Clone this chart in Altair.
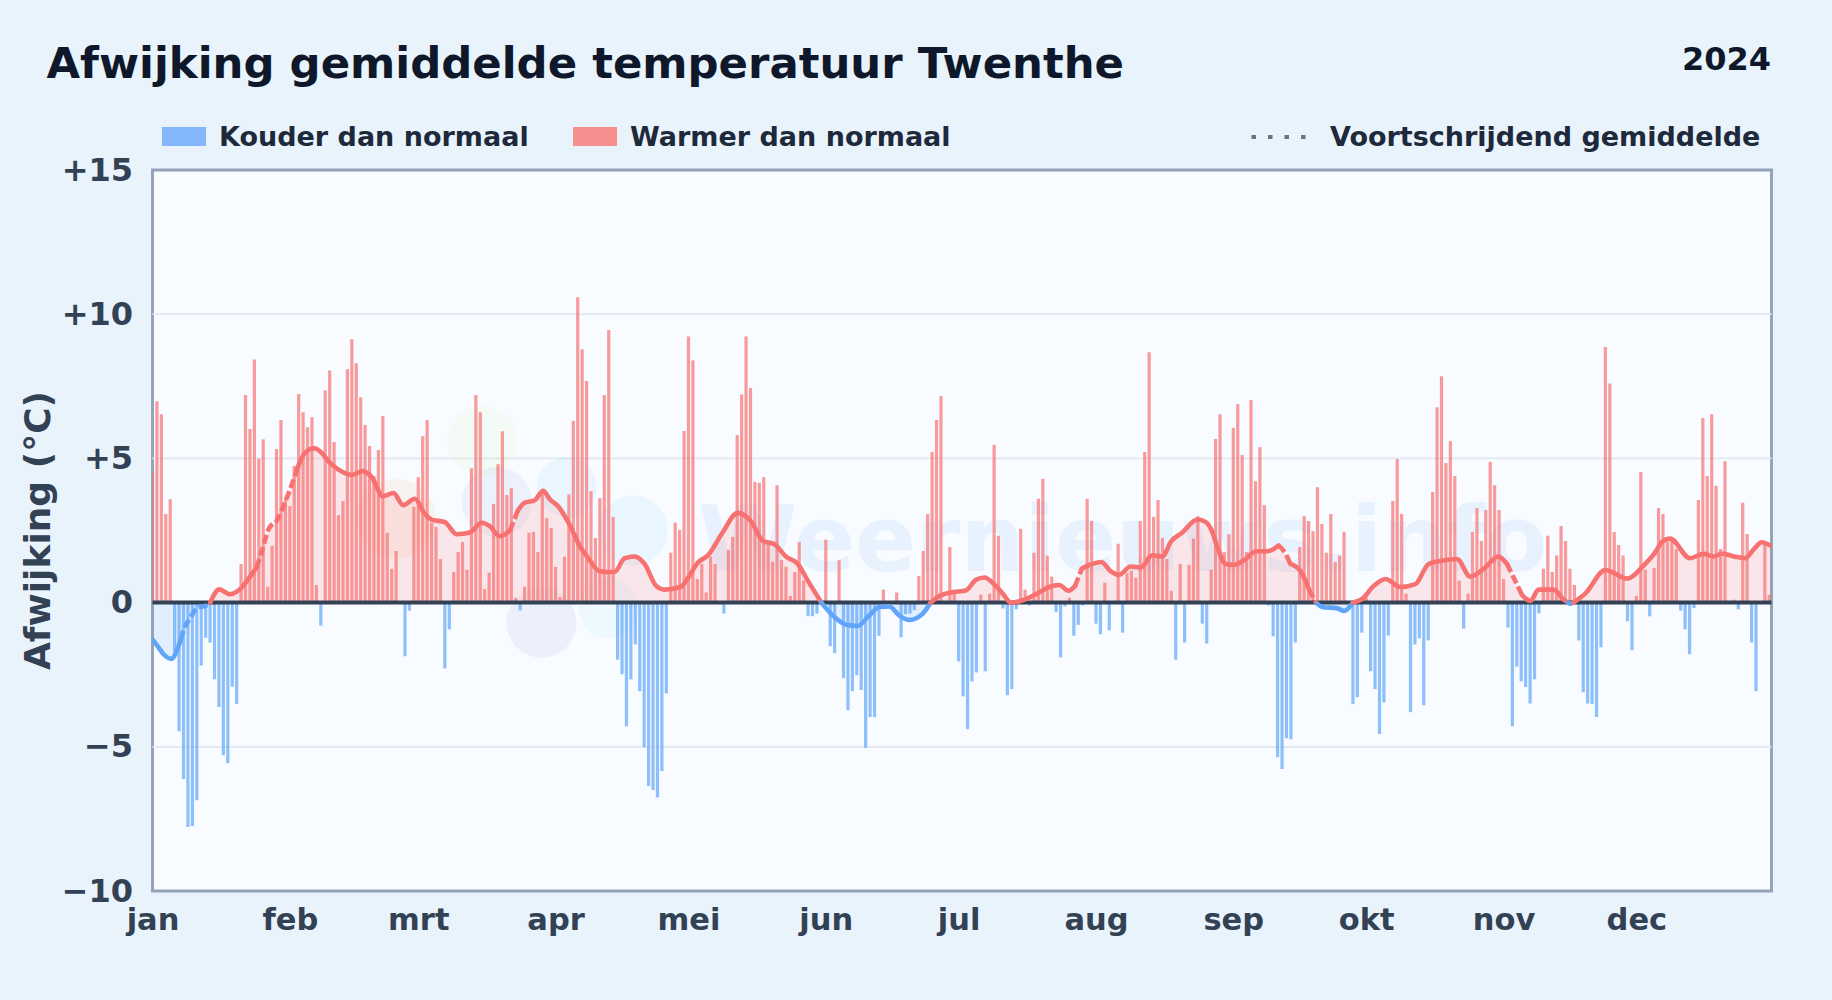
import altair as alt
import pandas as pd

DAILY = [
 4.55,6.98,6.53,3.07,3.58,-1.7,-4.46,-6.12,-7.78,-7.75,-6.85,-2.18,-1.22,-1.38,-2.66,-3.62,-5.29,-5.57,-2.92,-3.52,
 1.34,7.2,6.02,8.43,4.99,5.66,0.55,1.97,5.33,6.33,3.58,3.35,4.74,7.23,6.6,6.08,6.43,0.61,-0.8,7.36,
 8.05,5.57,3.03,3.52,8.09,9.13,8.3,7.12,6.16,5.43,4.39,5.29,6.47,2.42,1.17,1.79,0.0,-1.86,-0.27,3.32,
 4.35,5.77,6.33,2.77,2.62,1.51,-2.28,-0.93,1.06,1.75,2.1,1.14,4.66,7.2,6.6,0.47,1.04,3.42,4.8,5.94,
 3.73,3.97,0.17,-0.27,0.55,2.42,2.45,1.75,3.9,2.93,2.59,1.24,0.19,1.59,3.75,6.3,10.59,8.78,7.68,3.87,
 2.24,3.62,7.2,9.45,2.97,-1.98,-2.48,-4.29,-2.66,-1.45,-3.07,-5.02,-6.36,-6.5,-6.76,-5.84,-3.15,1.73,2.77,2.52,
 5.95,9.23,8.4,0.82,1.34,0.35,1.6,1.34,0.0,-0.38,1.83,2.28,5.81,7.22,9.23,7.44,4.19,4.15,4.35,2.1,
 1.41,4.07,1.47,1.24,0.23,1.06,2.1,0.77,-0.47,-0.47,-0.38,0.0,2.18,-1.51,-1.75,1.47,-2.62,-3.73,-3.07,-2.52,
 -3.03,-5.04,-3.97,-3.97,-1.15,0.45,0.0,0.0,0.35,-1.2,-0.4,-0.38,-0.26,0.92,1.79,3.07,5.22,6.33,7.16,0.0,
 1.93,0.32,-2.04,-3.25,-4.39,-2.73,-2.42,0.28,-2.38,0.31,5.47,2.32,-0.2,-3.21,-3.0,-0.23,2.56,0.45,-0.1,1.73,
 3.6,4.29,1.63,0.9,-0.32,-1.9,-0.13,0.17,-1.15,-0.77,-0.1,3.6,2.83,-0.73,-1.1,0.69,-0.96,0.0,2.04,-1.04,
 1.02,1.11,0.86,2.83,5.22,8.68,2.97,3.56,2.24,1.51,0.41,-1.98,1.34,-1.38,1.31,2.22,3.0,-0.73,-1.42,1.14,
 5.67,6.53,1.75,2.37,6.06,6.88,5.12,1.75,7.02,4.21,5.39,3.38,-0.1,-1.17,-5.36,-5.77,-4.7,-4.74,-1.38,1.93,
 3.0,2.83,2.48,4.0,2.73,1.73,3.07,1.41,1.63,2.45,0.0,-3.52,-3.28,-1.04,0.19,-2.38,-3.0,-4.56,-3.46,-1.14,
 3.52,4.98,3.07,0.31,-3.8,-1.45,-1.24,-3.56,-1.31,3.84,6.77,7.85,4.84,5.6,4.39,0.76,-0.9,0.31,2.45,3.28,
 2.14,3.21,4.88,4.07,3.21,0.82,-0.86,-4.29,-2.22,-2.73,-2.93,-3.5,-2.66,-0.37,1.17,2.32,1.06,1.63,2.66,2.14,
 1.17,0.61,-1.31,-3.11,-3.5,-3.52,-3.97,-1.55,8.86,7.6,2.45,2.0,1.63,-0.65,-1.65,0.23,4.53,1.15,-0.47,1.2,
 3.28,3.07,2.1,2.18,1.86,-0.27,-0.93,-1.79,-0.19,3.56,6.4,4.39,6.53,4.05,1.86,4.9,0.0,0.1,-0.23,3.46,
 2.38,-1.38,-3.07,0.0,2.0,0.27,
]

MA_DAYS = [0,1.4,2.5,4.4,5.5,6.4,7.4,8.5,10,12.3,13,15.1,17.5,20.3,22,23.5,24.7,26.2,28.2,29.5,31,32.6,34.4,36.5,38.2,39.7,42,45,47.4,49.5,52,54.4,56.6,59.2,61.5,63,66,68.7,71.6,74.3,76.2,78.4,80.7,82.5,84,86.3,88.2,89.65,91.5,94.2,96.4,98.7,100.9,104.3,106.6,108.8,111.1,113.7,115.6,119.3,120.8,123.1,125.4,128.7,132.1,135.1,137.8,140.4,143,145.7,147.9,151,153.6,156.6,159.2,161.8,164.1,166.3,168.6,170.9,173.9,175.7,177.2,180.6,183.6,185.9,187.8,190,191.9,193.8,196.8,200.2,202.4,204.7,206.8,208.3,209.8,211.8,214.2,216.3,218.2,220.8,223.1,225.7,228,229.9,232.5,235.9,237.8,239.3,240.4,242.3,244.2,246.4,249,252,254.2,255.4,256.9,259.2,261.1,262.7,264.1,267.5,269,271,273.1,275.7,278.4,281.7,285.1,288.1,291.1,294.5,297.5,300.9,303.8,305.8,309.2,311.1,312.9,316.3,318.6,319.6,320.1,320.8,323.5,328,332.9,336.6,339.2,340.8,342.6,347.1,350.2,352.4,354.3,357.3,359.6,361.4,363.3,365.5]
MA_VALS = [-1.28,-1.56,-1.79,-1.95,-1.66,-1.28,-0.83,-0.54,-0.19,-0.09,0.0,0.46,0.29,0.55,0.9,1.22,1.79,2.54,2.88,3.33,3.9,4.61,5.19,5.35,5.19,4.9,4.61,4.43,4.56,4.35,3.69,3.8,3.38,3.6,3.07,2.88,2.79,2.37,2.43,2.77,2.64,2.3,2.5,3.2,3.46,3.55,3.88,3.59,3.35,2.69,1.98,1.47,1.09,1.06,1.54,1.6,1.34,0.58,0.45,0.55,0.83,1.38,1.64,2.43,3.11,2.82,2.14,2.02,1.6,1.34,0.77,0.0,-0.45,-0.77,-0.81,-0.45,-0.15,-0.13,-0.45,-0.6,-0.38,0.0,0.19,0.36,0.42,0.79,0.87,0.64,0.32,0.0,0.1,0.36,0.54,0.61,0.41,0.58,1.18,1.32,1.41,1.09,0.96,1.25,1.22,1.64,1.6,2.11,2.43,2.88,2.79,2.43,1.92,1.34,1.31,1.47,1.77,1.79,1.98,1.79,1.34,1.09,0.45,0.0,-0.15,-0.2,-0.29,0.0,0.13,0.58,0.82,0.54,0.64,1.34,1.45,1.51,0.9,1.22,1.6,1.34,0.26,0.06,0.45,0.45,0.1,0.0,-0.04,0.0,0.32,1.13,0.83,1.28,1.73,2.11,2.22,1.54,1.69,1.6,1.7,1.59,1.54,1.83,2.09,1.95]
DASHED_SPANS = [(6.4, 13), (23.5, 33), (80.7, 82.5), (208.3, 209.8), (254.2, 256.9), (261.1, 262.7), (305.8, 309.2)]

MONTH_STARTS = [0,31,60,91,121,152,182,213,244,274,305,335]
MONTH_NAMES = ["jan","feb","mrt","apr","mei","jun","jul","aug","sep","okt","nov","dec"]
Y_TICKS = [-10,-5,0,5,10,15]
GRID_LINES = [-5,5,10]

TITLE = "Afwijking gemiddelde temperatuur Twenthe"
YEAR = "2024"
Y_TITLE = "Afwijking (°C)"
LEG_COLD = "Kouder dan normaal"
LEG_WARM = "Warmer dan normaal"
LEG_AVG = "Voortschrijdend gemiddelde"
WATERMARK = "Weernieuws.info"

BLOB_DAY = [74.5,77.7,93.5,108.4,87.8,103,55]
BLOB_VAL = [5.6,3.5,4.0,2.5,-0.7,-0.2,2.9]
BLOB_SIZE = [4900,4900,3600,4900,4900,3600,6400]
BLOB_COLOR = ["#bef264","#1e40af","#38bdf8","#38bdf8","#1e40af","#38bdf8","#fb923c"]
BLOB_OP = [0.06,0.05,0.07,0.07,0.06,0.05,0.07]

W, H = 1619, 721
PAGE = "#e8f3fc"
INK = "#334155"

bars = pd.DataFrame({"day": range(len(DAILY)), "val": DAILY})
bars["kind"] = ["warm" if v >= 0 else "cold" for v in DAILY]

rows = []
seg = -1
prev = None
for i in range(len(MA_DAYS) - 1):
    d0, d1, v0, v1 = MA_DAYS[i], MA_DAYS[i + 1], MA_VALS[i], MA_VALS[i + 1]
    kind = "warm" if v0 + v1 >= 0 else "cold"
    mid = (d0 + d1) / 2
    dashed = any(a <= mid <= b for a, b in DASHED_SPANS)
    key = (kind, dashed)
    if key != prev:
        seg += 1
        rows.append(dict(day=d0, val=v0, kind=kind, dashed=dashed, seg=seg))
        prev = key
    rows.append(dict(day=d1, val=v1, kind=kind, dashed=dashed, seg=seg))
ma = pd.DataFrame(rows)

x_scale = alt.Scale(domain=[0, 365.5], nice=False, zero=False, padding=0)
y_scale = alt.Scale(domain=[-10, 15], nice=False)
bar_colors = alt.Scale(domain=["cold", "warm"], range=["#3b82f6", "#ef4444"])
line_colors = alt.Scale(domain=["cold", "warm"], range=["#60a5fa", "#f87171"])

month_expr = "{" + ",".join(f"'{d}':'{n}'" for d, n in zip(MONTH_STARTS, MONTH_NAMES)) + "}[datum.value]"
y_expr = "datum.value > 0 ? '+' + datum.value : (datum.value < 0 ? '\u2212' + abs(datum.value) : '0')"

X = alt.X("day:Q", scale=x_scale, axis=alt.Axis(
    values=MONTH_STARTS, labelExpr=month_expr, title=None, grid=False, ticks=False, domain=False,
    labelFontSize=30.5, labelFontWeight="bold", labelColor=INK, labelPadding=14, labelFont="DejaVu Sans",
    labelOverlap=False, labelFlush=False))
Y = alt.Y("val:Q", scale=y_scale, axis=alt.Axis(
    values=Y_TICKS, labelExpr=y_expr, title=Y_TITLE, grid=False,
    ticks=False, domain=False, labelFontSize=32, labelFontWeight="bold", labelColor=INK, labelPadding=20,
    labelFont="DejaVu Sans", titleFont="DejaVu Sans", titleFontSize=36, titleFontWeight="bold", titleColor=INK,
    titleX=-114, titleY=360, titleAngle=270, titleAlign="center", titleBaseline="middle"))

grid = alt.Chart(pd.DataFrame({"val": GRID_LINES})).mark_rule(color="#e2e8f0", strokeWidth=1.8).encode(
    y=alt.Y("val:Q", scale=y_scale))

blobs = alt.Chart(pd.DataFrame({"day": BLOB_DAY, "val": BLOB_VAL, "s": BLOB_SIZE, "c": BLOB_COLOR, "o": BLOB_OP})).mark_point(
    shape="circle", filled=True, strokeWidth=0).encode(
    x=alt.X("day:Q", scale=x_scale), y=alt.Y("val:Q", scale=y_scale),
    size=alt.Size("s:Q", scale=None), color=alt.Color("c:N", scale=None), opacity=alt.Opacity("o:Q", scale=None))

wm = alt.Chart(pd.DataFrame({"day": [219], "val": [1.1], "t": [WATERMARK]})).mark_text(
    font="DejaVu Sans", fontWeight="bold", fontSize=90, color="#3b82f6", opacity=0.08, align="center", baseline="alphabetic"
).encode(x=alt.X("day:Q", scale=x_scale), y=alt.Y("val:Q", scale=y_scale), text="t:N")

area = alt.Chart(ma).mark_area(opacity=0.15, interpolate="monotone", clip=True).encode(
    x=alt.X("day:Q", scale=x_scale), y=alt.Y("val:Q", scale=y_scale, stack=None), y2=alt.datum(0),
    color=alt.Color("kind:N", scale=line_colors, legend=None), detail="seg:N")

bar_layer = alt.Chart(bars).mark_bar(size=3.2, opacity=0.7, clip=True).encode(
    x=X, y=Y, y2=alt.datum(0), color=alt.Color("kind:N", scale=bar_colors, legend=None))

zero = alt.Chart(pd.DataFrame({"val": [0]})).mark_rule(color="#334155", strokeWidth=4).encode(y=alt.Y("val:Q", scale=y_scale))

def line(frame, **kw):
    return alt.Chart(frame).mark_line(strokeWidth=4.6, interpolate="monotone", clip=True, **kw).encode(
        x=alt.X("day:Q", scale=x_scale), y=alt.Y("val:Q", scale=y_scale),
        color=alt.Color("kind:N", scale=line_colors, legend=None), detail="seg:N")

solid = line(ma[~ma.dashed], strokeCap="round", strokeJoin="round")
dash = line(ma[ma.dashed], strokeDash=[9, 3.5], strokeCap="butt")

# header and legend, placed in pixels above the plot
year = alt.Chart(pd.DataFrame({"t": [YEAR]})).mark_text(
    font="DejaVu Sans", fontWeight="bold", fontSize=32, color="#0f172a", align="right", baseline="alphabetic"
).encode(x=alt.value(W - 0.5), y=alt.value(-100), text="t:N")

def legend_text(t, x):
    return alt.Chart(pd.DataFrame({"t": [t]})).mark_text(
        font="DejaVu Sans", fontWeight="bold", fontSize=27, color="#1e293b", align="left", baseline="middle"
    ).encode(x=alt.value(x), y=alt.value(-32), text="t:N")

def swatch(x0, color):
    return alt.Chart(pd.DataFrame({"a": [0]})).mark_rect(color=color).encode(
        x=alt.value(x0), x2=alt.value(x0 + 44), y=alt.value(-43), y2=alt.value(-24))

dots = alt.Chart(pd.DataFrame({"a": [0]})).mark_rule(color="#64748b", strokeWidth=4, strokeDash=[4.5, 12]).encode(
    x=alt.value(1099), x2=alt.value(1155), y=alt.value(-33))

chart = alt.layer(
    grid, blobs, wm, area, bar_layer, zero, solid, dash, year,
    swatch(9.5, "#84b7fb"), legend_text(LEG_COLD, 66.5),
    swatch(420.5, "#f78f8f"), legend_text(LEG_WARM, 477.5),
    dots, legend_text(LEG_AVG, 1177.5),
).properties(
    width=W, height=H,
    padding={"left": 144.5, "top": 162, "right": 52, "bottom": 110},
    autosize=alt.AutoSizeParams(type="none"),
    background=PAGE,
    title=alt.TitleParams(TITLE, anchor="start", frame="group", dx=-106, dy=81.5, baseline="alphabetic", font="DejaVu Sans",
                          fontSize=43.4, fontWeight="bold", color="#0f172a"),
).configure_view(fill="#f8fbff", stroke="#94a3b8", strokeWidth=3)

chart.save("out.html", embed_options={"renderer": "svg", "actions": False,
                                      "defaultStyle": f"html,body{{background:{PAGE};overflow:hidden}}"})
